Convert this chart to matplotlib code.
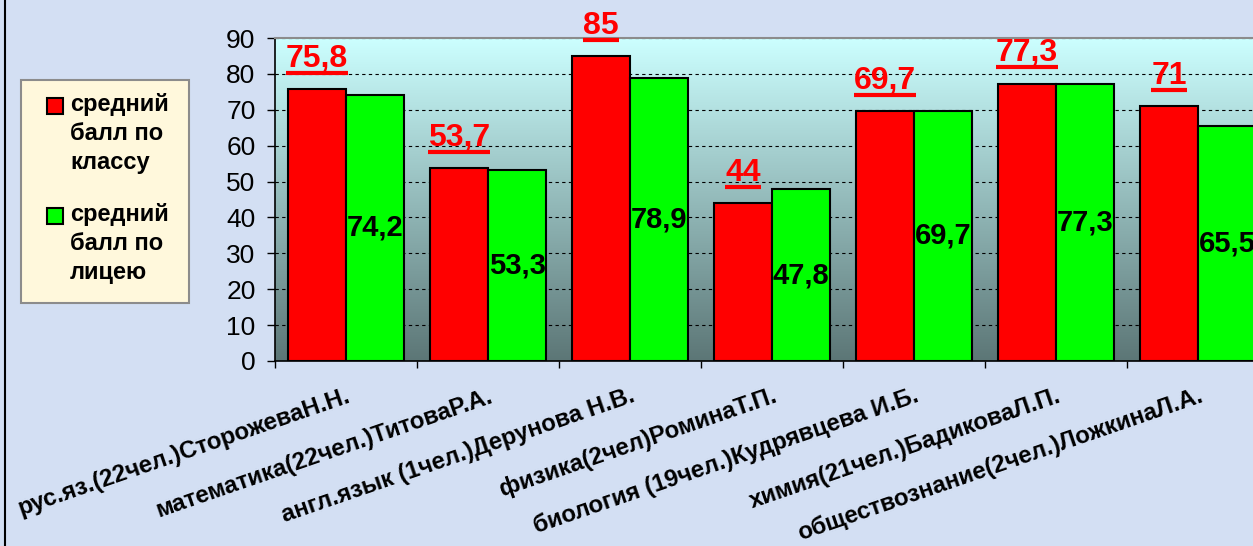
import numpy as np
import matplotlib
matplotlib.use("Agg")
import matplotlib.pyplot as plt
from matplotlib.lines import Line2D
from matplotlib.patches import Rectangle
from matplotlib.transforms import ScaledTranslation

plt.rcParams['font.family'] = ['Liberation Sans', 'DejaVu Sans']

# data
subjects = [
    "рус.яз.(22чел.)СторожеваН.Н.",
    "математика(22чел.)ТитоваР.А.",
    "англ.язык (1чел.)Дерунова Н.В.",
    "физика(2чел)РоминаТ.П.",
    "биология (19чел.)Кудрявцева И.Б.",
    "химия(21чел.)БадиковаЛ.П.",
    "обществознание(2чел.)ЛожкинаЛ.А.",
]
class_avg = [75.8, 53.7, 85, 44, 69.7, 77.3, 71]
lyceum_avg = [74.2, 53.3, 78.9, 47.8, 69.7, 77.3, 65.5]
series_names = ["средний\nбалл по\nклассу", "средний\nбалл по\nлицею"]
series_colors = ["#ff0000", "#00ff00"]
yticks = list(range(0, 91, 10))

W, H = 1253, 546


def fmt(v):
    return f"{v:g}".replace(".", ",")


def fx(px):
    return px / W


def fy(py):
    return 1 - py / H


fig = plt.figure(figsize=(W / 100, H / 100), dpi=100, facecolor="#d3dff3")
ax = fig.add_axes([fx(275), fy(361), 994 / W, 323 / H])

n = len(subjects)
x = np.arange(n)
w = 0.41

# plot area gradient, light cyan to grey-teal
grad = np.linspace(0, 1, 256)[:, None, None]
top = np.array([204, 255, 255]) / 255
bot = np.array([92, 118, 118]) / 255
img = top + (bot - top) * grad
ax.imshow(img, extent=(-0.5, n - 0.5, 0, 90), aspect="auto",
          origin="upper", zorder=0)

ax.bar(x - w / 2, class_avg, w, color=series_colors[0], edgecolor="black",
       linewidth=1.5, zorder=2)
ax.bar(x + w / 2, lyceum_avg, w, color=series_colors[1], edgecolor="black",
       linewidth=1.5, zorder=2)

ax.set_xlim(-0.5, n - 0.5)
ax.set_ylim(0, 90)
ax.set_yticks(yticks)
ax.yaxis.grid(True, linestyle=(0, (3, 3)), color="black", linewidth=0.8)
ax.set_axisbelow(True)

ax.spines["right"].set_visible(False)
ax.spines["top"].set_color("#8c8c8c")
ax.spines["top"].set_linewidth(1.5)
for s in ("left", "bottom"):
    ax.spines[s].set_linewidth(1.2)

ax.tick_params(axis="y", length=6, width=1, pad=8, labelsize=19)
ax.set_xticks(np.arange(-0.5, n, 1))
ax.set_xticklabels([])
ax.tick_params(axis="x", which="major", length=5, width=1)
ax.set_xticks(x, minor=True)
ax.set_xticklabels(subjects, minor=True, fontweight="bold", fontsize=17.3,
                   rotation=19, ha="right", rotation_mode="anchor")
ax.tick_params(axis="x", which="minor", length=0, pad=17)

# value labels
off = ScaledTranslation(0, 16 / 72, fig.dpi_scale_trans)
red_texts = []
for xi, v in zip(x, class_avg):
    t = ax.text(xi - w / 2, v, fmt(v), transform=ax.transData + off,
                ha="center", va="baseline", color="red", fontsize=23,
                fontweight="bold", zorder=5)
    red_texts.append((t, xi - w / 2, v))
for xi, v in zip(x, lyceum_avg):
    ax.text(xi + w / 2, v / 2, fmt(v), ha="center", va="center",
            color="black", fontsize=21, fontweight="bold", zorder=5)

# underline the red labels
fig.canvas.draw()
r = fig.canvas.get_renderer()
inv = fig.transFigure.inverted()
for t, xp, v in red_texts:
    bb = t.get_window_extent(r)
    ybase = (ax.transData + off).transform((xp, v))[1]
    (a0, b0) = inv.transform((bb.x0, ybase - 6))
    (a1, _) = inv.transform((bb.x1, ybase - 6))
    fig.add_artist(Line2D([a0, a1], [b0, b0], color="red", linewidth=3,
                          solid_capstyle="butt", transform=fig.transFigure))

# legend box drawn by hand
fig.add_artist(Rectangle((fx(21), fy(303)), 168 / W, 223 / H,
                         transform=fig.transFigure, facecolor="#fff8dc",
                         edgecolor="#8c8c8c", linewidth=1.5))
for i, (name, col) in enumerate(zip(series_names, series_colors)):
    y0 = 98 + i * 110
    fig.add_artist(Rectangle((fx(47), fy(y0 + 16)), 16 / W, 16 / H,
                             transform=fig.transFigure, facecolor=col,
                             edgecolor="black", linewidth=1.5))
    fig.text(fx(70), fy(y0 - 5), name, ha="left", va="top", fontsize=17,
             fontweight="bold", linespacing=1.33)

# left border of the chart area
fig.add_artist(Line2D([fx(5), fx(5)], [0, 1], color="black", linewidth=1.5,
                      transform=fig.transFigure))

fig.savefig("out.png", dpi=100, facecolor=fig.get_facecolor())
